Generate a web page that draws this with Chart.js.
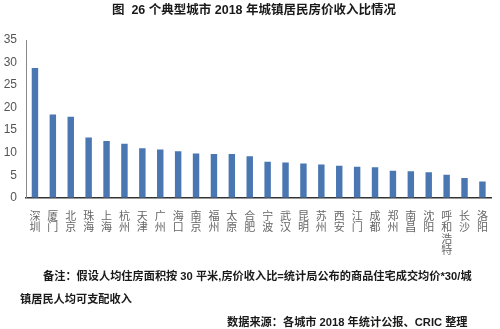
<!DOCTYPE html>
<html>
<head>
<meta charset="utf-8">
<script src="https://cdn.jsdelivr.net/npm/chart.js@4/dist/chart.umd.min.js"></script>
<style>
  html, body { margin: 0; padding: 0; background: #fff; }
  #wrap { position: relative; width: 500px; height: 329px; overflow: hidden; }
  #chart { position: absolute; left: 0; top: 0; }
  .txt { position: absolute; white-space: nowrap; font-family: "Liberation Sans", "Noto Sans CJK SC", sans-serif; font-weight: bold; color: #1a1a1a; }
</style>
</head>
<body>
<div id="wrap">
  <canvas id="chart" width="500" height="329"></canvas>
  <div class="txt" id="title" style="left:0;width:508px;text-align:center;top:-1px;font-size:12.5px;">图&nbsp; 26 个典型城市 2018 年城镇居民房价收入比情况</div>
  <div class="txt" style="left:43px;top:267px;font-size:11.2px;">备注：假设人均住房面积按 30 平米,房价收入比=统计局公布的商品住宅成交均价*30/城</div>
  <div class="txt" style="left:20px;top:290px;font-size:11.2px;">镇居民人均可支配收入</div>
  <div class="txt" style="left:227px;top:313px;font-size:11.2px;">数据来源：各城市 2018 年统计公报、CRIC 整理</div>
</div>
<script>
document.addEventListener("DOMContentLoaded", function () {
    const cities = ["深圳", "厦门", "北京", "珠海", "上海", "杭州", "天津", "广州", "海口", "南京", "福州", "太原", "合肥",
                    "宁波", "武汉", "昆明", "苏州", "西安", "江门", "成都", "郑州", "南昌", "沈阳", "呼和浩特", "长沙", "洛阳"];
    const ratios = [28.8, 18.5, 18.0, 13.4, 12.6, 12.0, 11.0, 10.7, 10.3, 9.8, 9.7, 9.7, 9.2,
                    8.0, 7.85, 7.6, 7.4, 7.1, 6.9, 6.75, 6.0, 5.9, 5.65, 5.1, 4.4, 3.6];
    const yTicks = [0, 5, 10, 15, 20, 25, 30, 35];

    const ctx = document.getElementById("chart").getContext("2d");

    new Chart(ctx, {
        type: "bar",
        data: {
            labels: cities.map(c => c.split("")), // vertical labels, one character per line
            datasets: [{
                data: ratios,
                backgroundColor: "#4a77b2",
                barPercentage: 0.36,
                categoryPercentage: 1.0
            }]
        },
        options: {
            responsive: false,
            animation: false,
            layout: { padding: { left: 4, right: 4, top: 40, bottom: 61 } },
            plugins: { legend: { display: false }, tooltip: { enabled: false } },
            scales: {
                x: {
                    grid: { display: false, drawTicks: false },
                    border: { color: "#333", width: 1.5 },
                    ticks: {
                        maxRotation: 0,
                        autoSkip: false,
                        padding: 12,
                        color: "#666",
                        font: { family: "'Noto Sans CJK SC', sans-serif", size: 11, lineHeight: 1.05 }
                    }
                },
                y: {
                    min: yTicks[0],
                    max: yTicks[yTicks.length - 1],
                    afterBuildTicks: axis => { axis.ticks = yTicks.map(v => ({ value: v })); },
                    afterFit: axis => { axis.width = 22; },
                    grid: { display: false, drawTicks: false },
                    border: { color: "#888", width: 1 },
                    ticks: {
                        padding: 9,
                        color: "#555",
                        font: { family: "'Liberation Sans', sans-serif", size: 12 }
                    }
                }
            }
        }
    });
});
</script>
</body>
</html>
